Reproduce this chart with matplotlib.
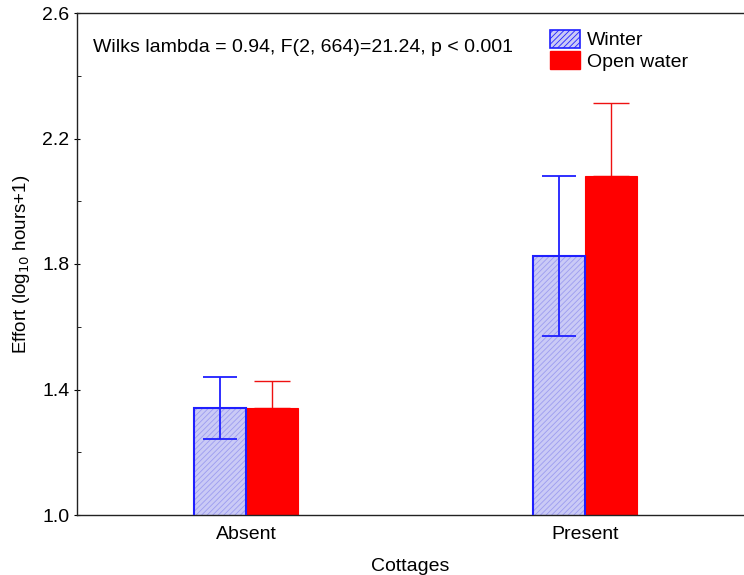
import matplotlib.pyplot as plt
import numpy as np

plt.rcParams['font.family'] = ['Liberation Sans', 'DejaVu Sans']
plt.rcParams['hatch.linewidth'] = 0.6

# group means and standard errors (log10 hours + 1)
cottages = ['Absent', 'Present']
winter = [1.34, 1.826]
winter_err = [0.099, 0.255]
open_water = [1.34, 2.08]
open_err = [0.087, 0.233]

x = np.arange(len(cottages))
w = 0.153
fs = 14

fig = plt.figure(figsize=(7.44, 5.75), dpi=100)
ax = fig.add_axes([77 / 744, 1 - 515 / 575, 1 - 77 / 744, (515 - 13) / 575])

# winter bars: hatched light blue with blue outline
ax.bar(x - w / 2, winter, w, color='#cacaf6', edgecolor='#9c9cf0',
       hatch='//////', linewidth=0, zorder=2)
ax.bar(x - w / 2, winter, w, fill=False, edgecolor='#1f1fff', linewidth=1.5, zorder=3)
ax.errorbar(x - w / 2, winter, yerr=winter_err, fmt='none', ecolor='#1f1fff',
            elinewidth=1.3, capsize=12, capthick=1.3, zorder=4)

# open water bars
ax.bar(x + w / 2, open_water, w, color='#ff0000', edgecolor='#ff0000',
       linewidth=0.8, zorder=2)
ax.errorbar(x + w / 2, open_water, yerr=[np.zeros(2), open_err], fmt='none',
            ecolor='#ee1111', elinewidth=1.0, capsize=13, capthick=1.0, zorder=1)

ax.set_xlim(-0.4985, 1.469)
ax.set_ylim(1.0, 2.6)
ax.set_yticks([1.0, 1.4, 1.8, 2.2, 2.6])
ax.set_yticks([1.2, 1.6, 2.0, 2.4], minor=True)
ax.set_xticks(x)
ax.set_xticklabels(cottages)
ax.tick_params(axis='y', which='major', direction='inout', length=5, labelsize=fs, pad=3)
ax.tick_params(axis='y', which='minor', direction='in', length=3)
ax.tick_params(axis='x', direction='in', length=3, labelsize=fs, pad=8)
ax.spines['right'].set_visible(False)
for s in ['left', 'bottom', 'top']:
    ax.spines[s].set_linewidth(1.0)
    ax.spines[s].set_color('#222222')

ax.set_ylabel('Effort (log$_{10}$ hours+1)', fontsize=13.5, labelpad=7)
ax.set_xlabel('Cottages', fontsize=fs, labelpad=11)

ax.text(93, 575 - 48, 'Wilks lambda = 0.94, F(2, 664)=21.24, p < 0.001',
        transform=None, fontsize=fs, va='center', ha='left')

h1 = plt.Rectangle((0, 0), 1, 1, facecolor='#cacaf6', edgecolor='#1f1fff',
                   hatch='//////', linewidth=1.2)
h2 = plt.Rectangle((0, 0), 1, 1, facecolor='#ff0000', edgecolor='#ff0000')
fig.legend([h1, h2], ['Winter', 'Open water'], loc='upper left',
           bbox_to_anchor=(536 / 744, 1 - 16 / 575), frameon=False, fontsize=fs,
           handlelength=1.55, handleheight=1.05, handletextpad=0.35, labelspacing=0.1,
           borderpad=0.2)

fig.savefig('out.png', dpi=100)
